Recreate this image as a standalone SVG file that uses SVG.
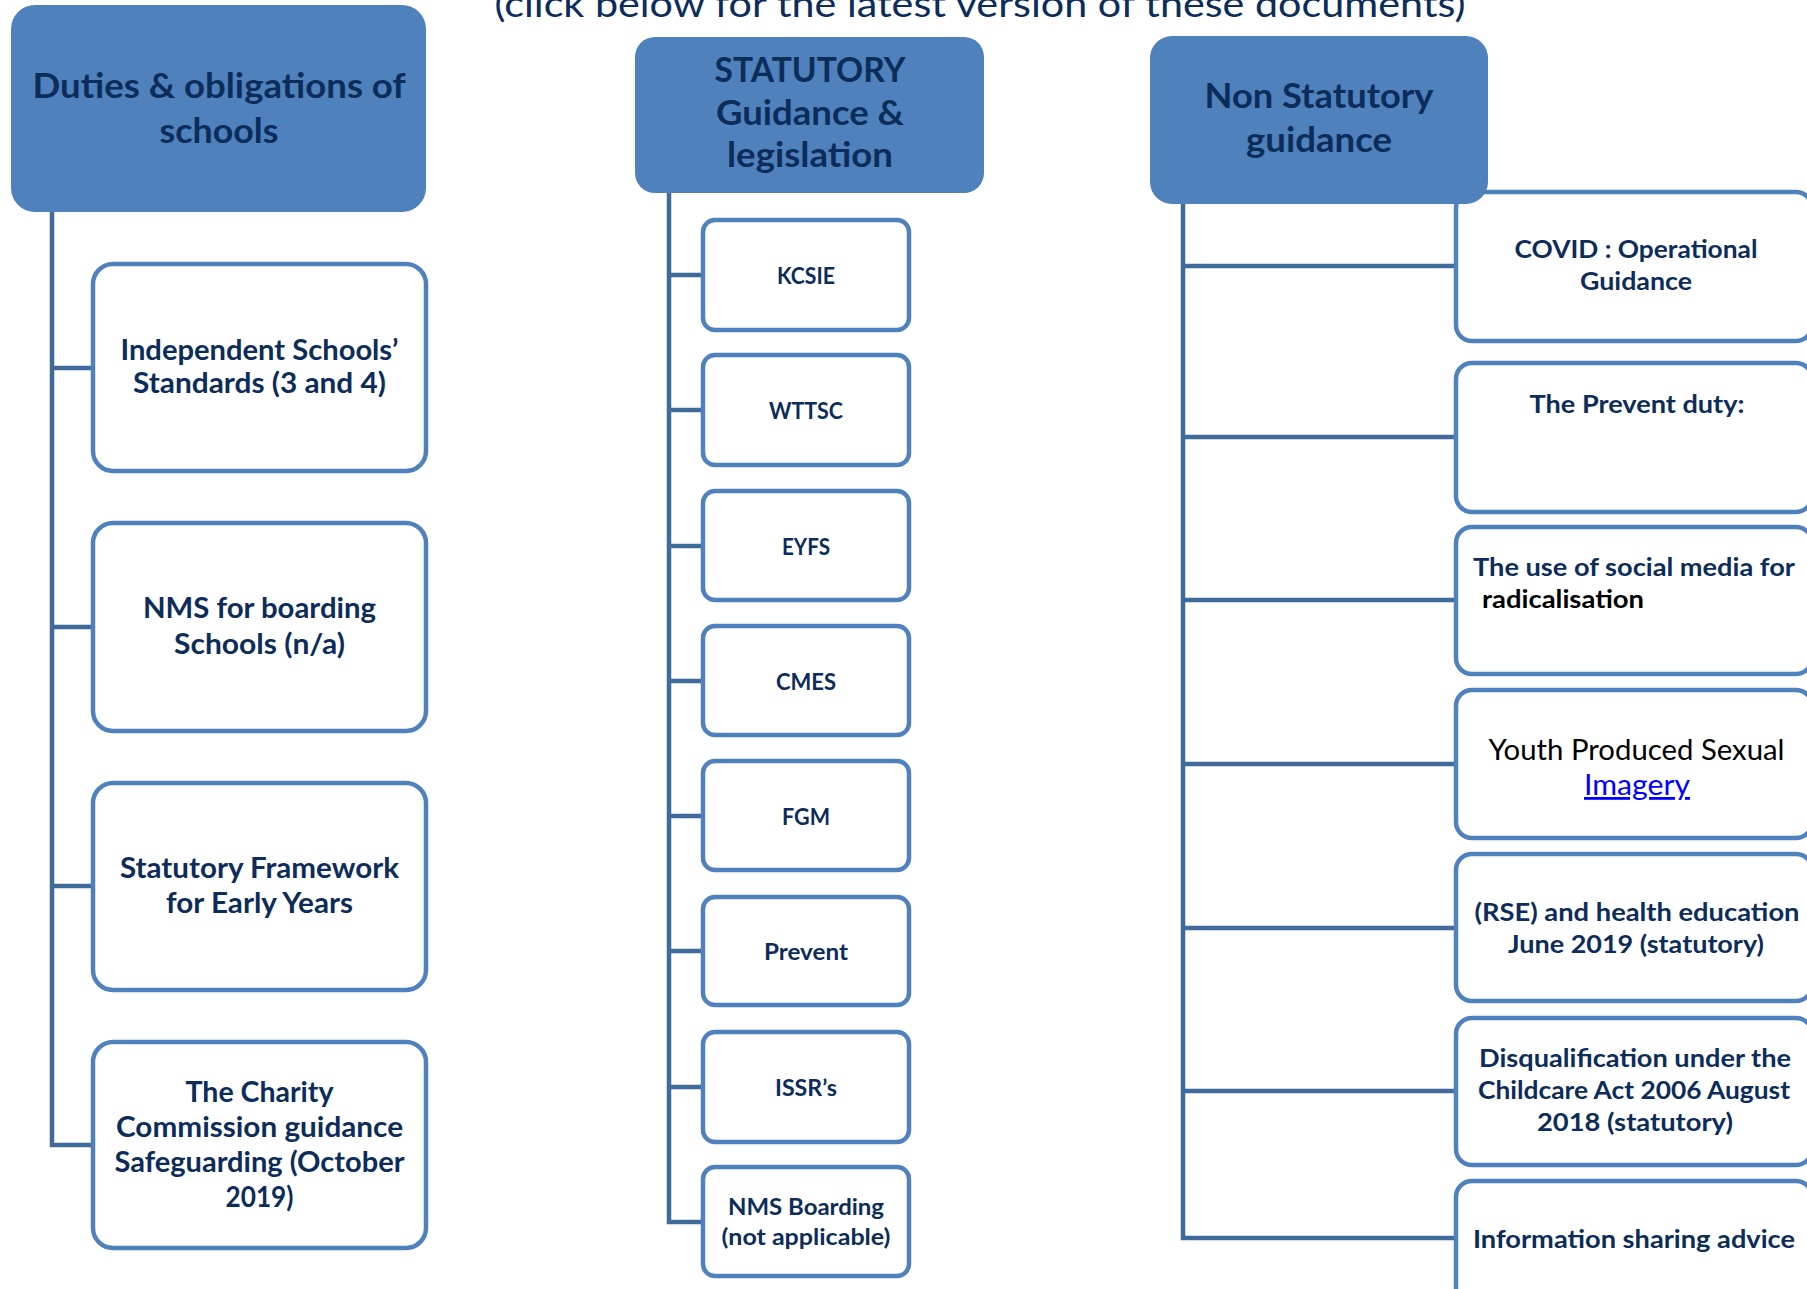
<svg xmlns="http://www.w3.org/2000/svg" width="1807" height="1289" viewBox="0 0 1807 1289">
<style>
.hdr{fill:#4F81BD;}
.box{fill:#FFFFFF;stroke:#4F81BD;stroke-width:4.5;}
.conn{stroke:#3F6A9A;stroke-width:4.5;fill:none;stroke-linejoin:miter;}
.t{font-family:Lato,"Open Sans","Liberation Sans",sans-serif;font-weight:bold;fill:#0C2C5A;text-anchor:middle;}
.h{font-size:35px;}
.l{font-size:28.5px;}
.m{font-size:23.5px;}
.r{font-size:25px;}
.s{text-anchor:start;}
</style>
<rect width="1807" height="1289" fill="#FFFFFF"/>
<text x="980" y="17" font-family="Lato,'Open Sans','Liberation Sans',sans-serif" font-size="37" fill="#0C2C5A" text-anchor="middle" textLength="971" lengthAdjust="spacingAndGlyphs">(click below for the latest version of these documents)</text>

<g id="connectors">
<path class="conn" d="M52 212 V1145 H93"/>
<line class="conn" x1="52" y1="368" x2="93" y2="368"/>
<line class="conn" x1="52" y1="627" x2="93" y2="627"/>
<line class="conn" x1="52" y1="886" x2="93" y2="886"/>
<path class="conn" d="M669 193 V1222 H703"/>
<line class="conn" x1="669" y1="275" x2="703" y2="275"/>
<line class="conn" x1="669" y1="410" x2="703" y2="410"/>
<line class="conn" x1="669" y1="546" x2="703" y2="546"/>
<line class="conn" x1="669" y1="681" x2="703" y2="681"/>
<line class="conn" x1="669" y1="816" x2="703" y2="816"/>
<line class="conn" x1="669" y1="951" x2="703" y2="951"/>
<line class="conn" x1="669" y1="1087" x2="703" y2="1087"/>
<path class="conn" d="M1183 204 V1238 H1456"/>
<line class="conn" x1="1183" y1="266" x2="1456" y2="266"/>
<line class="conn" x1="1183" y1="437" x2="1456" y2="437"/>
<line class="conn" x1="1183" y1="600" x2="1456" y2="600"/>
<line class="conn" x1="1183" y1="764" x2="1456" y2="764"/>
<line class="conn" x1="1183" y1="928" x2="1456" y2="928"/>
<line class="conn" x1="1183" y1="1091" x2="1456" y2="1091"/>
</g>

<!-- Left column -->
<g id="hdr-duties">
<rect class="hdr" x="11" y="5" width="415" height="207" rx="24"/>
<text class="t h" x="219" y="98" textLength="373" lengthAdjust="spacingAndGlyphs">Duties &amp; obligations of</text>
<text class="t h" x="219" y="143" textLength="119" lengthAdjust="spacingAndGlyphs">schools</text>
</g>
<g id="iss">
<rect class="box" x="93" y="264" width="333" height="207" rx="20"/>
<text class="t l" x="259.5" y="360" textLength="278" lengthAdjust="spacingAndGlyphs">Independent Schools’</text>
<text class="t l" x="259.5" y="393" textLength="253" lengthAdjust="spacingAndGlyphs">Standards (3 and 4)</text>
</g>
<g id="nms-left">
<rect class="box" x="93" y="523" width="333" height="208" rx="20"/>
<text class="t l" x="259.5" y="618" textLength="233" lengthAdjust="spacingAndGlyphs">NMS for boarding</text>
<text class="t l" x="259.5" y="654" textLength="171" lengthAdjust="spacingAndGlyphs">Schools (n/a)</text>
</g>
<g id="sfey">
<rect class="box" x="93" y="783" width="333" height="207" rx="20"/>
<text class="t l" x="259.5" y="878" textLength="279" lengthAdjust="spacingAndGlyphs">Statutory Framework</text>
<text class="t l" x="259.5" y="913" textLength="187" lengthAdjust="spacingAndGlyphs">for Early Years</text>
</g>
<g id="charity">
<rect class="box" x="93" y="1042" width="333" height="206" rx="20"/>
<text class="t l" x="259.5" y="1102" textLength="148" lengthAdjust="spacingAndGlyphs">The Charity</text>
<text class="t l" x="259.5" y="1137" textLength="287" lengthAdjust="spacingAndGlyphs">Commission guidance</text>
<text class="t l" x="259.5" y="1172" textLength="290" lengthAdjust="spacingAndGlyphs">Safeguarding (October</text>
<text class="t l" x="259.5" y="1207" textLength="68" lengthAdjust="spacingAndGlyphs">2019)</text>
</g>

<!-- Middle column -->
<g id="hdr-statutory">
<rect class="hdr" x="635" y="37" width="349" height="156" rx="20"/>
<text class="t h" x="810" y="82" style="font-size:34px" textLength="191" lengthAdjust="spacingAndGlyphs">STATUTORY</text>
<text class="t h" x="810" y="125" style="font-size:34px" textLength="188" lengthAdjust="spacingAndGlyphs">Guidance &amp;</text>
<text class="t h" x="810" y="167" style="font-size:34px" textLength="166" lengthAdjust="spacingAndGlyphs">legislation</text>
</g>
<g id="kcsie">
<rect class="box" x="703" y="220" width="206" height="110" rx="12"/>
<text class="t m" x="806" y="284" textLength="58" lengthAdjust="spacingAndGlyphs">KCSIE</text>
</g>
<g id="wttsc">
<rect class="box" x="703" y="355" width="206" height="110" rx="12"/>
<text class="t m" x="806" y="419" textLength="74" lengthAdjust="spacingAndGlyphs">WTTSC</text>
</g>
<g id="eyfs">
<rect class="box" x="703" y="491" width="206" height="109" rx="12"/>
<text class="t m" x="806" y="555" textLength="48" lengthAdjust="spacingAndGlyphs">EYFS</text>
</g>
<g id="cmes">
<rect class="box" x="703" y="626" width="206" height="109" rx="12"/>
<text class="t m" x="806" y="690" textLength="60" lengthAdjust="spacingAndGlyphs">CMES</text>
</g>
<g id="fgm">
<rect class="box" x="703" y="761" width="206" height="109" rx="12"/>
<text class="t m" x="806" y="825" textLength="48" lengthAdjust="spacingAndGlyphs">FGM</text>
</g>
<g id="prevent">
<rect class="box" x="703" y="897" width="206" height="108" rx="12"/>
<text class="t m" x="806" y="960" textLength="84" lengthAdjust="spacingAndGlyphs">Prevent</text>
</g>
<g id="issr">
<rect class="box" x="703" y="1032" width="206" height="110" rx="12"/>
<text class="t m" x="806" y="1096" textLength="62" lengthAdjust="spacingAndGlyphs">ISSR’s</text>
</g>
<g id="nms-boarding">
<rect class="box" x="703" y="1167" width="206" height="109" rx="12"/>
<text class="t m" x="806" y="1215" textLength="156" lengthAdjust="spacingAndGlyphs">NMS Boarding</text>
<text class="t m" x="806" y="1245" textLength="169" lengthAdjust="spacingAndGlyphs">(not applicable)</text>
</g>

<!-- Right column -->
<g id="covid">
<rect class="box" x="1456" y="192" width="356" height="149" rx="16"/>
<text class="t r" x="1636" y="258" textLength="243" lengthAdjust="spacingAndGlyphs">COVID : Operational</text>
<text class="t r" x="1636" y="290" textLength="112" lengthAdjust="spacingAndGlyphs">Guidance</text>
</g>
<g id="hdr-nonstat">
<rect class="hdr" x="1150" y="36" width="338" height="168" rx="22"/>
<text class="t h" x="1319" y="108" textLength="229" lengthAdjust="spacingAndGlyphs">Non Statutory</text>
<text class="t h" x="1319" y="152" textLength="146" lengthAdjust="spacingAndGlyphs">guidance</text>
</g>
<g id="prevent-duty">
<rect class="box" x="1456" y="363" width="356" height="149" rx="16"/>
<text class="t r" x="1637" y="413" textLength="215" lengthAdjust="spacingAndGlyphs">The Prevent duty:</text>
</g>
<g id="social-media">
<rect class="box" x="1456" y="527" width="356" height="147" rx="16"/>
<text class="t r s" x="1473" y="576" textLength="322" lengthAdjust="spacingAndGlyphs">The use of social media for</text>
<text class="t r s" x="1482" y="608" style="fill:#000000" textLength="162" lengthAdjust="spacingAndGlyphs">radicalisation</text>
</g>
<g id="yps">
<rect class="box" x="1456" y="690" width="356" height="148" rx="16"/>
<text class="t" x="1636.5" y="760" style="font-weight:normal;font-size:28px;fill:#000000" textLength="296" lengthAdjust="spacingAndGlyphs">Youth Produced Sexual</text>
<text class="t" x="1637" y="795" style="font-weight:normal;font-size:28px;fill:#0000FF;text-decoration:underline" textLength="106" lengthAdjust="spacingAndGlyphs">Imagery</text>
</g>
<g id="rse">
<rect class="box" x="1456" y="854" width="356" height="147" rx="16"/>
<text class="t r" x="1637" y="921" textLength="325" lengthAdjust="spacingAndGlyphs">(RSE) and health education</text>
<text class="t r" x="1636" y="953" textLength="256" lengthAdjust="spacingAndGlyphs">June 2019 (statutory)</text>
</g>
<g id="disqualification">
<rect class="box" x="1456" y="1018" width="356" height="147" rx="16"/>
<text class="t r" x="1635" y="1067" textLength="312" lengthAdjust="spacingAndGlyphs">Disqualification under the</text>
<text class="t r" x="1634" y="1099" textLength="312" lengthAdjust="spacingAndGlyphs">Childcare Act 2006 August</text>
<text class="t r" x="1635" y="1131" textLength="196" lengthAdjust="spacingAndGlyphs">2018 (statutory)</text>
</g>
<g id="info-sharing">
<rect class="box" x="1456" y="1181" width="356" height="150" rx="16"/>
<text class="t r" x="1634" y="1248" textLength="322" lengthAdjust="spacingAndGlyphs">Information sharing advice</text>
</g>
</svg>
